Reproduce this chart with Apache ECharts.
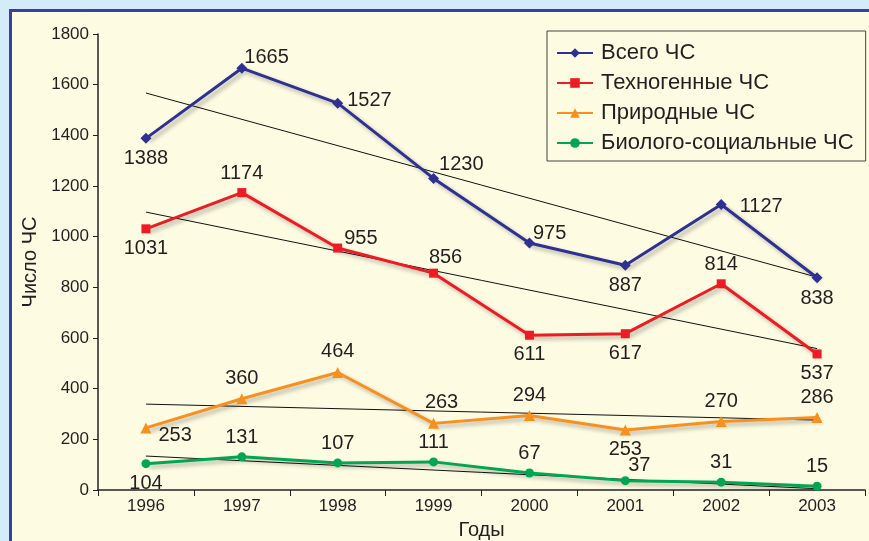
<!DOCTYPE html>
<html><head><meta charset="utf-8">
<script src="https://cdn.jsdelivr.net/npm/echarts@6/dist/echarts.min.js"></script>
<style>html,body{margin:0;padding:0;background:#d4ebf9;overflow:hidden;}#c{position:absolute;left:0;top:0;width:869px;height:541px;}</style>
</head><body><div id="c"></div>
<script>
const years = ['1996','1997','1998','1999','2000','2001','2002','2003'];
const seriesNames = ['Всего ЧС','Техногенные ЧС','Природные ЧС','Биолого-социальные ЧС'];
const totalValues = [1388,1665,1527,1230,975,887,1127,838];
const technoValues = [1031,1174,955,856,611,617,814,537];
const naturalValues = [245,360,464,263,294,237,270,286];
const naturalLabels = ['253','360','464','263','294','253','270','286'];
const bioValues = [104,131,107,111,67,37,31,15];
// trend line end values (1996, 2003)
const totalTrend = [1567,840];
const technoTrend = [1097,558];
const naturalTrend = [339,276];
const bioTrend = [134,5];
const yTicks = [0,200,400,600,800,1000,1200,1400,1600,1800];

const colors = ['#2e3192','#ed1c24','#f7901e','#00a651'];
const symbols = ['diamond','rect','triangle','circle'];
const symSizes = [11,9,11,9];
const TXT = '#231f20';
const FONT = "'Liberation Sans', Arial, sans-serif";

// label placement per point: [position, dx, dy]
const labelPlace = [
  [['bottom',0,0],['right',-8,-11],['right',-1,-3],['right',-5,-14],['right',-7,-10],['bottom',0,0],['right',8,2],['bottom',0,0]],
  [['bottom',0,0],['top',0,0],['right',-3,-10],['top',12,4],['bottom',0,0],['bottom',0,0],['top',0,0],['bottom',0,0]],
  [['right',2,8],['top',0,0],['top',0,0],['top',8,0],['top',0,0],['bottom',0,-1],['top',0,0],['top',0,0]],
  [['bottom',0,0],['top',0,0],['top',0,0],['top',0,0],['top',0,0],['top',14,4],['top',0,0],['top',0,0]]
];

function buildData(vals, idx, labels){
  return vals.map((v,i)=>({
    value: v,
    label: {position: labelPlace[idx][i][0], offset:[labelPlace[idx][i][1], labelPlace[idx][i][2]],
      formatter: labels ? labels[i] : String(v)}
  }));
}
function trendData(t){
  return years.map((y,i)=> i===0 ? t[0] : (i===years.length-1 ? t[1] : '-'));
}
const allVals = [totalValues, technoValues, naturalValues, bioValues];
const trends = [totalTrend, technoTrend, naturalTrend, bioTrend];
const series = [];
trends.forEach((t)=>{
  series.push({type:'line', data: trendData(t), connectNulls:true, symbol:'none', silent:true,
    lineStyle:{color:'#111', width:1}, z:1, legendHoverLink:false});
});
allVals.forEach((vals, idx)=>{
  series.push({
    name: seriesNames[idx], type:'line', data: buildData(vals, idx, idx===2 ? naturalLabels : null),
    symbol: symbols[idx], symbolSize: symSizes[idx], z:3,
    itemStyle:{color: colors[idx]},
    lineStyle:{color: colors[idx], width:3, shadowColor:'rgba(0,0,0,0.3)', shadowBlur:4, shadowOffsetX:3, shadowOffsetY:3},
    label:{show:true, color:TXT, fontFamily:FONT, fontSize:20, distance:5}
  });
});

const chart = echarts.init(document.getElementById('c'));
chart.setOption({
  animation:false,
  backgroundColor:'#d4ebf9',
  graphic:[{type:'rect', z:-10, shape:{x:10.5,y:10.5,width:900,height:600},
    style:{fill:'#fdfbe2', stroke:'#3b3f9c', lineWidth:3}}],
  legend:{
    data: seriesNames, orient:'vertical', left:547, top:31,
    backgroundColor:'#fdfbe2', borderColor:'#444', borderWidth:1,
    padding:[11,12,7,9], itemWidth:36, itemHeight:12, itemGap:8,
    textStyle:{color:TXT, fontFamily:FONT, fontSize:22, padding:[0,0,0,3]}
  },
  grid:{left:98, right:4, top:34, bottom:51, containLabel:false, outerBoundsMode:'none'},
  xAxis:{
    type:'category', data: years, boundaryGap:true,
    name:'Годы', nameLocation:'middle', nameGap:30,
    nameTextStyle:{color:TXT, fontFamily:FONT, fontSize:20},
    axisLine:{lineStyle:{color:'#222', width:1.5}},
    axisTick:{show:true, length:6, lineStyle:{color:'#222'}},
    axisLabel:{color:TXT, fontFamily:FONT, fontSize:17, margin:8}
  },
  yAxis:{
    type:'value', min:0, max:1800, interval:200,
    name:'Число ЧС', nameLocation:'middle', nameGap:55, nameRotate:90,
    nameTextStyle:{color:TXT, fontFamily:FONT, fontSize:20},
    axisLine:{show:true, lineStyle:{color:'#222', width:1.5}},
    axisTick:{show:true, length:5, lineStyle:{color:'#222'}},
    axisLabel:{color:TXT, fontFamily:FONT, fontSize:17, margin:9,
      formatter:(v)=> yTicks.includes(v) ? String(v) : ''},
    splitLine:{show:false}
  },
  series: series
});
</script></body></html>
